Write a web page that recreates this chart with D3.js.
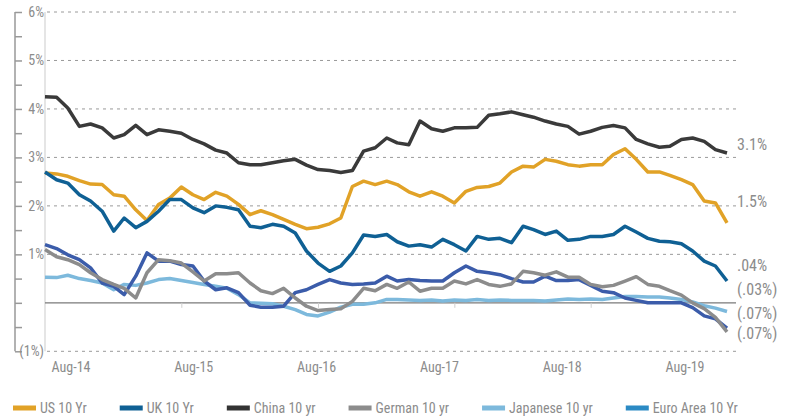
<!DOCTYPE html>
<html>
<head>
<meta charset="utf-8">
<script src="https://d3js.org/d3.v7.min.js"></script>
<style>
    body { margin: 0; background: #fff; }
    text { font-family: "Liberation Sans Narrow", "Roboto Condensed", "DejaVu Sans Condensed", sans-serif; fill: #8c8c8c; }
</style>
</head>
<body>
<script>
// monthly readings, Aug-14 .. Aug-19
var months = d3.timeMonth.range(new Date(2014, 7, 1), new Date(2019, 7, 2));

var us = [2.68, 2.66, 2.61, 2.52, 2.45, 2.44, 2.23, 2.2, 1.92, 1.7, 2.03, 2.16, 2.39, 2.23, 2.13, 2.28,
    2.2, 2.03, 1.82, 1.9, 1.82, 1.72, 1.62, 1.53, 1.56, 1.63, 1.75, 2.4, 2.51, 2.44, 2.51,
    2.44, 2.29, 2.2, 2.29, 2.2, 2.06, 2.3, 2.38, 2.4, 2.47, 2.7, 2.82, 2.8, 2.96, 2.92,
    2.85, 2.82, 2.85, 2.85, 3.06, 3.18, 2.96, 2.7, 2.7, 2.63, 2.54, 2.44, 2.1, 2.06, 1.65];

var uk = [2.7, 2.54, 2.47, 2.23, 2.1, 1.89, 1.48, 1.75, 1.55, 1.68, 1.89, 2.13, 2.13, 1.96, 1.86, 2.0,
    1.97, 1.92, 1.58, 1.55, 1.62, 1.58, 1.44, 1.07, 0.82, 0.65, 0.76, 1.03, 1.4, 1.37, 1.41,
    1.26, 1.17, 1.2, 1.15, 1.31, 1.2, 1.07, 1.37, 1.31, 1.33, 1.24, 1.58, 1.51, 1.41, 1.48,
    1.29, 1.31, 1.37, 1.37, 1.41, 1.58, 1.46, 1.33, 1.27, 1.26, 1.22, 1.07, 0.86, 0.76, 0.45];

var china = [4.25, 4.24, 4.02, 3.64, 3.69, 3.61, 3.4, 3.47, 3.66, 3.47, 3.57, 3.54, 3.5, 3.37, 3.28, 3.15,
    3.09, 2.89, 2.85, 2.85, 2.89, 2.93, 2.96, 2.84, 2.75, 2.73, 2.69, 2.73, 3.13, 3.2, 3.4,
    3.3, 3.26, 3.75, 3.59, 3.54, 3.61, 3.61, 3.62, 3.87, 3.9, 3.94, 3.88, 3.83, 3.75, 3.69,
    3.64, 3.48, 3.54, 3.62, 3.66, 3.61, 3.37, 3.28, 3.21, 3.23, 3.37, 3.4, 3.33, 3.16, 3.09];

var german = [1.1, 0.95, 0.89, 0.79, 0.62, 0.48, 0.38, 0.3, 0.1, 0.62, 0.89, 0.87, 0.82, 0.64, 0.45, 0.6,
    0.6, 0.62, 0.41, 0.25, 0.19, 0.3, 0.1, -0.07, -0.16, -0.14, -0.12, 0.03, 0.3, 0.25, 0.38,
    0.3, 0.43, 0.24, 0.3, 0.3, 0.45, 0.39, 0.48, 0.38, 0.34, 0.39, 0.65, 0.62, 0.57, 0.64,
    0.53, 0.53, 0.38, 0.33, 0.36, 0.45, 0.54, 0.38, 0.34, 0.25, 0.16, 0.0, -0.12, -0.3, -0.6];

var japan = [0.53, 0.52, 0.57, 0.5, 0.46, 0.41, 0.27, 0.38, 0.36, 0.41, 0.48, 0.5, 0.46, 0.42, 0.38, 0.34,
    0.3, 0.17, 0.0, -0.01, -0.02, -0.07, -0.14, -0.24, -0.27, -0.19, -0.09, -0.03, -0.03, 0.0, 0.07,
    0.07, 0.06, 0.05, 0.06, 0.04, 0.06, 0.05, 0.07, 0.05, 0.06, 0.05, 0.05, 0.05, 0.04, 0.06,
    0.08, 0.07, 0.08, 0.07, 0.1, 0.13, 0.13, 0.12, 0.12, 0.1, 0.07, 0.02, -0.06, -0.11, -0.18];

var euro = [1.2, 1.12, 0.99, 0.89, 0.72, 0.41, 0.34, 0.17, 0.55, 1.03, 0.86, 0.86, 0.79, 0.76, 0.45, 0.27,
    0.31, 0.21, -0.05, -0.09, -0.09, -0.07, 0.21, 0.27, 0.38, 0.48, 0.41, 0.38, 0.39, 0.41, 0.55,
    0.45, 0.48, 0.46, 0.45, 0.45, 0.62, 0.76, 0.65, 0.62, 0.58, 0.5, 0.43, 0.43, 0.55, 0.46,
    0.46, 0.48, 0.36, 0.24, 0.21, 0.1, 0.05, 0.0, 0.0, 0.0, 0.0, -0.1, -0.27, -0.33, -0.52];

var seriesNames = ["US 10 Yr", "UK 10 Yr", "China 10 yr", "German 10 yr", "Japanese 10 yr", "Euro Area 10 Yr"];
var seriesValues = [us, uk, china, german, japan, euro];

var xTickLabels = ["Aug-14", "Aug-15", "Aug-16", "Aug-17", "Aug-18", "Aug-19"];
var yTicks = [-1, 1, 2, 3, 4, 5, 6];
var yTickLabels = ["(1%)", "1%", "2%", "3%", "4%", "5%", "6%"];

// labels at the right end, and the level they sit at
var endLabels = ["3.1%", "1.5%", ".04%", "(.03%)", "(.07%)", "(.07%)"];
var endLabelLevels = [3.26, 2.1, 0.78, 0.28, -0.21, -0.64];

window.onload = function () {

    var w = 785, h = 416;

    var lineColors = ["#e1a227", "#0f6094", "#3a3a3a", "#8c8c8c", "#7db9dc", "#3b5caa"];
    var legendColors = ["#e1a227", "#0f6094", "#333333", "#8c8c8c", "#7db9dc", "#2b8ac4"];

    var svg = d3.select("body")
        .append("svg")
        .attr("width", w)
        .attr("height", h);

    var x = d3.scaleTime()
        .domain([months[0], months[months.length - 1]])
        .range([45, 727]);

    var y = d3.scaleLinear()
        .domain([-1, 6])
        .range([351.3, 12]);

    // label positions for the date axis
    var xLabel = d3.scalePoint()
        .domain(xTickLabels)
        .range([71, 685]);

    //dashed gridlines
    svg.selectAll(".grid")
        .data(yTicks)
        .enter()
        .append("line")
        .attr("class", "grid")
        .attr("x1", 47)
        .attr("x2", 736)
        .attr("y1", function (d) { return y(d); })
        .attr("y2", function (d) { return y(d); })
        .style("stroke", "#9a9a9a")
        .style("stroke-width", 1)
        .style("stroke-dasharray", "3,4");

    //plot left edge
    svg.append("line")
        .attr("x1", 45).attr("x2", 45)
        .attr("y1", y(6)).attr("y2", y(-1))
        .style("stroke", "#dcdcdc")
        .style("stroke-width", 1.5);

    //left axis with half-percent ticks
    var yAxis = d3.axisRight(y)
        .tickValues(d3.range(-1, 6.01, 0.5))
        .tickSize(7)
        .tickFormat("");

    var axis = svg.append("g")
        .attr("class", "axis")
        .attr("transform", "translate(15,0)")
        .call(yAxis);
    axis.select(".domain").attr("d", "M0," + y(6) + "V" + y(-1)).style("stroke", "#999").style("stroke-width", 1.5);
    axis.selectAll(".tick line").style("stroke", "#999").style("stroke-width", 1.5);

    svg.selectAll(".ylabel")
        .data(yTicks)
        .enter()
        .append("text")
        .attr("class", "ylabel")
        .attr("x", 44)
        .attr("y", function (d) { return y(d); })
        .attr("dy", "0.35em")
        .attr("text-anchor", "end")
        .style("font-size", "14px")
        .text(function (d, i) { return yTickLabels[i]; });

    //zero line with yearly ticks
    svg.append("line")
        .attr("x1", 45).attr("x2", 736)
        .attr("y1", y(0)).attr("y2", y(0))
        .style("stroke", "#7a7a7a")
        .style("stroke-width", 1.2);

    var xAxis = d3.axisBottom(x)
        .tickValues(months.filter(function (d) { return d.getMonth() === 7; }).slice(1, 5))
        .tickSize(5)
        .tickFormat("");

    var xg = svg.append("g")
        .attr("transform", "translate(0," + y(0) + ")")
        .call(xAxis);
    xg.select(".domain").remove();
    xg.selectAll(".tick line").style("stroke", "#d0d0d0");

    svg.selectAll(".xlabel")
        .data(xTickLabels)
        .enter()
        .append("text")
        .attr("class", "xlabel")
        .attr("x", function (d) { return xLabel(d); })
        .attr("y", 372)
        .attr("text-anchor", "middle")
        .style("font-size", "14px")
        .text(function (d) { return d; });

    //lines, bottom group first
    var line = d3.line()
        .x(function (d, i) { return x(months[i]); })
        .y(function (d) { return y(d); });

    var drawOrder = [4, 5, 3, 2, 0, 1];

    svg.selectAll(".series")
        .data(drawOrder)
        .enter()
        .append("path")
        .attr("class", "series")
        .attr("d", function (k) { return line(seriesValues[k]); })
        .style("fill", "none")
        .style("stroke", function (k) { return lineColors[k]; })
        .style("stroke-width", 3.5)
        .style("stroke-linejoin", "round");

    //right end labels
    svg.selectAll(".endlabel")
        .data(endLabels)
        .enter()
        .append("text")
        .attr("class", "endlabel")
        .attr("x", 737)
        .attr("y", function (d, i) { return y(endLabelLevels[i]); })
        .attr("dy", "0.35em")
        .style("font-size", "16px")
        .text(function (d) { return d; });

    //legend
    var lx = 13;
    seriesNames.forEach(function (name, i) {
        var g = svg.append("g")
            .attr("transform", "translate(" + lx + ",408)");
        g.append("rect")
            .attr("x", 0)
            .attr("y", -2.5)
            .attr("width", 23)
            .attr("height", 5)
            .style("fill", legendColors[i]);
        var t = g.append("text")
            .attr("x", 27)
            .attr("y", 0)
            .attr("dy", "0.36em")
            .style("font-size", "14px")
            .text(name);
        lx += 27 + t.node().getComputedTextLength() + 33;
    });
};
</script>
</body>
</html>
